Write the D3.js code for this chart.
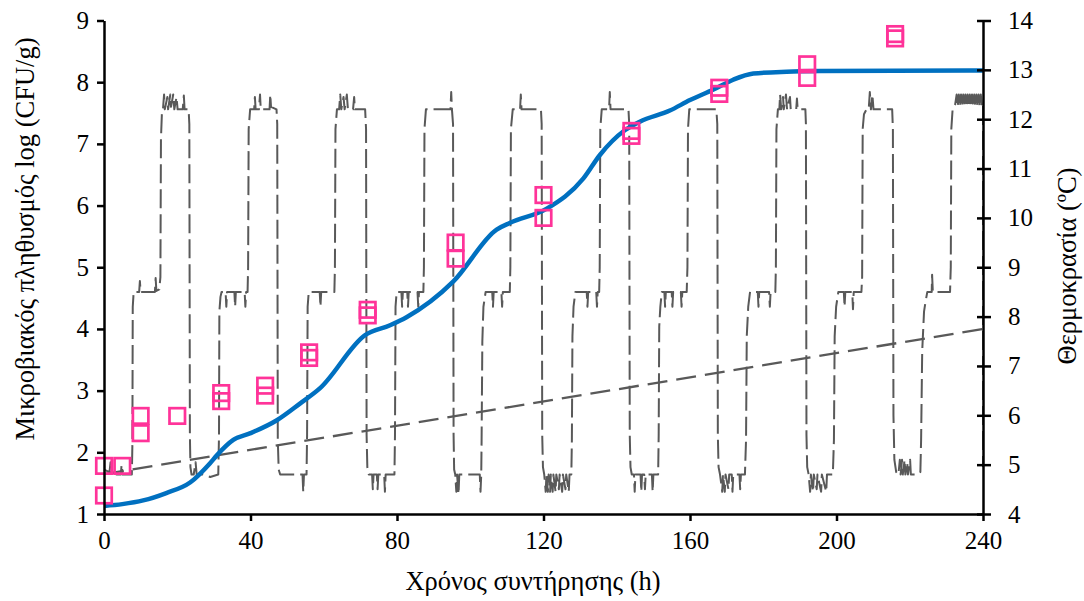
<!DOCTYPE html>
<html>
<head>
<meta charset="utf-8">
<script src="https://cdn.jsdelivr.net/npm/d3@7"></script>
<style>
  html, body { margin: 0; padding: 0; background: #ffffff; }
  svg { display: block; }
  text { font-family: "Liberation Serif", "Times New Roman", serif; fill: #000; }
</style>
</head>
<body>
<svg id="chart" width="1084" height="601"></svg>
<script>
// ---- Data ----
// Storage time (h) tick labels
const timeTicks = [0, 40, 80, 120, 160, 200, 240];
const countTicks = [1, 2, 3, 4, 5, 6, 7, 8, 9];
const tempTicks = [4, 5, 6, 7, 8, 9, 10, 11, 12, 13, 14];

// Observed counts, log CFU/g (two replicates at most sampling times)
const obsTime  = [0, 0, 5, 10, 10, 20, 32, 32, 44, 44, 56, 56, 72, 72, 96, 96, 120, 120, 144, 144, 168, 168, 192, 192, 216, 216];
const obsCount = [1.30, 1.78, 1.78, 2.59, 2.31, 2.59, 2.96, 2.83, 3.08, 2.92, 3.62, 3.53, 4.31, 4.22, 5.40, 5.14, 6.17, 5.80, 7.21, 7.13, 7.91, 7.81, 8.29, 8.07, 8.78, 8.71];

// Predicted growth curve, log CFU/g
const modelTime  = [0, 5, 10.7, 17, 23.5, 28.9, 30.8, 35.3, 40, 47.2, 53.5, 59, 71.3, 78.1, 82.6, 95.4, 107.2, 110.9, 120.9, 130.9, 135.4, 142.2, 146.3, 154.5, 160, 166.4, 171.8, 177.3, 186.4, 195.5, 240];
const modelCount = [1.13, 1.16, 1.22, 1.34, 1.51, 1.82, 1.95, 2.20, 2.31, 2.52, 2.79, 3.04, 3.90, 4.06, 4.19, 4.77, 5.61, 5.72, 5.95, 6.44, 6.82, 7.22, 7.36, 7.54, 7.71, 7.88, 8.04, 8.14, 8.17, 8.18, 8.19];

// Straight reference line on the temperature axis (°C)
const refTime = [0, 240];
const refTemp = [4.81, 7.75];

// Logged storage temperature, [h, °C]
const tempProfile = [
  // day 1
  [0,4.9],[1.5,4.85],[1.8,5.05],[2.1,4.85],[3.5,4.8],[4.6,4.8],[4.8,5.0],[5.1,4.8],[6.5,4.8],[7.6,4.8],[7.75,5.4],[7.85,8.2],[8.1,8.5],
  [9.6,8.5],[9.8,8.72],[10.0,8.5],[13.9,8.5],[14.1,8.78],[14.3,8.52],[15.1,8.55],[15.4,8.8],[15.55,11.6],[15.8,12.1],[16.1,12.2],
  [16.4,12.5],[16.6,12.2],[17.3,12.45],[17.5,12.2],[18.1,12.5],[18.3,12.25],[18.9,12.5],[19.2,12.2],[19.8,12.45],[20.1,12.2],[21.5,12.2],[21.8,12.48],[22.0,12.2],[23.1,12.2],[23.3,11.9],
  [23.45,5.6],[23.6,4.95],[23.9,4.8],
  // day 2
  [24.5,4.8],[25.0,5.05],[25.3,4.8],[27,4.8],[29,4.75],[31.2,4.8],[31.4,5.6],[31.5,8.1],[31.8,8.4],[32.1,8.5],
  [33.2,8.5],[33.4,8.2],[33.6,8.5],[35.6,8.5],[35.8,8.2],[36.0,8.5],[38.4,8.5],[38.6,8.2],[38.8,8.5],[39.2,8.5],[39.35,9.0],[39.5,11.8],[39.9,12.2],
  [40.3,12.2],[41.0,12.2],[41.2,12.45],[41.4,12.2],[42.3,12.2],[42.6,12.5],[42.8,12.2],[45.2,12.2],[45.4,12.5],[45.6,12.25],[47.1,12.2],[47.3,11.9],[47.45,5.5],[47.7,4.9],[48.1,4.8],
  // day 3
  [50,4.8],[52,4.8],[54.2,4.8],[54.4,4.45],[54.6,4.8],[55.3,4.8],[55.45,5.6],[55.6,8.2],[55.9,8.5],
  [57.5,8.5],[58.9,8.5],[59.1,8.2],[59.3,8.5],[62.9,8.5],[63.05,9.0],[63.2,11.8],[63.6,12.2],
  [64.2,12.2],[64.5,12.5],[64.8,12.2],[65.4,12.45],[65.7,12.2],[66.3,12.5],[66.6,12.2],[68.0,12.2],[68.3,12.45],[68.5,12.2],[71.3,12.2],[71.55,11.8],[71.7,5.6],[71.9,4.95],[72.3,4.8],
  // day 4
  [73.2,4.8],[73.4,4.5],[73.6,4.8],[74.5,4.8],[74.7,4.5],[74.9,4.8],[76.5,4.8],[76.7,4.45],[76.9,4.8],[79.3,4.8],[79.45,5.6],[79.6,8.2],[79.9,8.5],
  [81.2,8.5],[81.4,8.2],[81.6,8.5],[82.8,8.5],[83.0,8.2],[83.2,8.5],[85.6,8.5],[85.8,8.2],[86.0,8.5],[87.2,8.5],[87.35,9.0],[87.5,11.8],[87.9,12.2],
  [88.5,12.2],[94.6,12.2],[94.8,12.55],[95.0,12.2],[95.3,11.9],[95.45,5.6],[95.6,4.9],
  // day 5
  [95.9,4.8],[96.2,4.45],[96.4,4.8],[96.8,4.4],[97.0,4.8],[99.4,4.8],[101.5,4.8],[102.6,4.8],[102.8,4.45],[103.0,4.8],[103.1,5.5],[103.3,7.5],[103.6,8.2],[104.2,8.5],
  [105.5,8.5],[106.0,8.5],[106.2,8.2],[106.4,8.5],[108.5,8.5],[108.7,8.2],[108.9,8.5],[110.8,8.5],[110.95,9.0],[111.1,11.8],[111.6,12.2],
  [113.6,12.2],[113.8,12.5],[114.0,12.2],[119.3,12.2],[119.5,11.9],[119.65,5.6],[119.85,4.95],[120.2,4.8],
  // day 6
  [120.6,4.45],[120.8,4.8],[121.2,4.45],[121.4,4.8],[121.8,4.45],[122.0,4.8],[122.5,4.45],[122.7,4.8],[123.3,4.45],[123.5,4.8],[124.2,4.5],[124.4,4.8],[125.1,4.45],[125.3,4.8],[126.0,4.5],[126.2,4.8],[126.9,4.45],[127.1,4.8],[127.6,4.8],[127.75,5.5],[127.9,7.6],[128.2,8.2],[128.7,8.5],
  [130.2,8.5],[131.8,8.5],[132.0,8.2],[132.2,8.5],[134.4,8.5],[134.6,8.2],[134.8,8.5],[135.2,8.5],[135.35,9.0],[135.5,11.8],[135.9,12.2],
  [137.9,12.2],[138.1,12.55],[138.3,12.2],[143.2,12.2],[143.4,11.9],[143.55,5.6],[143.75,4.95],[144.1,4.8],
  // day 7
  [144.7,4.8],[144.9,4.45],[145.1,4.8],[146.5,4.8],[146.7,4.45],[146.9,4.8],[147.5,4.8],[147.7,4.5],[147.9,4.8],[149.6,4.8],[149.8,4.45],[150.0,4.8],[151.3,4.8],[151.45,5.6],[151.6,7.8],[151.9,8.2],[152.3,8.5],
  [153.0,8.5],[153.2,8.2],[153.4,8.5],[155.0,8.5],[155.2,8.2],[155.4,8.5],[157.5,8.5],[157.7,8.2],[157.9,8.5],[159.1,8.5],[159.3,9.0],[159.45,11.8],[159.8,12.2],
  [167.2,12.2],[167.45,11.9],[167.6,5.6],[167.8,4.95],[168.2,4.8],
  // day 8
  [168.8,4.45],[169.0,4.8],[169.5,4.45],[169.7,4.8],[170.5,4.5],[170.7,4.8],[171.4,4.8],[171.6,4.45],[171.8,4.8],[173.5,4.8],[173.7,4.5],[173.9,4.8],[175.0,4.8],[175.3,5.5],[175.5,7.6],[175.9,8.2],[176.4,8.5],
  [178.5,8.5],[178.7,8.2],[178.9,8.5],[181.6,8.5],[181.8,8.2],[182.0,8.5],[183.3,8.5],[183.45,9.0],[183.6,11.8],[184.0,12.2],
  [184.4,12.2],[184.6,12.5],[184.9,12.2],[185.4,12.45],[185.6,12.2],[186.2,12.5],[186.5,12.2],[187.3,12.45],[187.5,12.2],[189.0,12.2],[189.2,12.42],[189.4,12.2],[191.5,12.2],[191.65,11.9],[191.8,5.6],[192.0,4.95],[192.4,4.8],
  // day 9
  [192.8,4.45],[193.0,4.8],[193.6,4.45],[193.8,4.8],[194.6,4.5],[194.8,4.8],[195.8,4.45],[196.0,4.8],[197.2,4.45],[197.4,4.8],[199.0,4.8],[199.3,5.5],[199.5,7.6],[199.9,8.2],[200.5,8.5],
  [202.0,8.5],[202.2,8.2],[202.4,8.5],[204.3,8.5],[204.5,8.15],[204.7,8.5],[206.8,8.5],[207.0,8.8],[207.15,11.8],[207.5,12.1],[208.2,12.2],
  [208.8,12.2],[209.1,12.55],[209.4,12.2],[209.8,12.5],[210.1,12.2],[215.2,12.2],[215.4,11.8],[215.55,6.0],[215.8,5.1],[216.3,4.85],[216.9,4.8],
  // day 10
  [217.3,5.1],[217.5,4.8],[217.9,5.1],[218.1,4.8],[218.6,5.1],[218.8,4.8],[219.3,5.05],[219.5,4.8],[220.1,5.1],[220.3,4.8],[222.3,4.8],[222.9,4.85],[223.1,5.5],[223.4,7.3],[223.9,8.1],
  [224.3,8.3],[224.8,8.5],[226.0,8.5],[226.1,8.85],[226.3,8.5],[231.0,8.5],[231.2,9.0],[231.35,11.8],[231.7,12.2],[232.4,12.3],
  [232.8,12.5],[233.1,12.25],[233.4,12.5],[233.7,12.25],[234.0,12.5],[234.3,12.25],[234.6,12.5],[234.9,12.25],[235.2,12.5],[235.5,12.25],[235.8,12.5],[236.1,12.25],[236.4,12.5],[236.7,12.25],[237.0,12.5],[237.3,12.25],[237.6,12.5],[237.9,12.25],[238.2,12.5],[238.5,12.25],[238.8,12.5],[239.1,12.25],[239.4,12.5],[239.7,12.25],[240,12.3],[240,4.95]
];

// ---- Layout ----
const svg = d3.select("#chart");
const plot = { left: 104, right: 983, top: 20.5, bottom: 514 };

const x  = d3.scaleLinear().domain([0, 240]).range([plot.left, plot.right]);
const yL = d3.scaleLinear().domain([1, 9]).range([plot.bottom, plot.top]);
const yR = d3.scaleLinear().domain([4, 14]).range([plot.bottom, plot.top]);

const gray = "#595959";
const blue = "#0070C0";
const pink = "#FF3399";
const serif = "'Liberation Serif', 'Times New Roman', serif";

// Reference line (dashed, temperature axis)
svg.append("path")
  .datum(refTime.map((t, i) => [t, refTemp[i]]))
  .attr("fill", "none")
  .attr("stroke", gray)
  .attr("stroke-width", 2.3)
  .attr("stroke-dasharray", "20,9")
  .attr("d", d3.line().x(d => x(d[0])).y(d => yR(d[1])));

// Temperature record (dashed)
svg.append("path")
  .datum(tempProfile)
  .attr("fill", "none")
  .attr("stroke", gray)
  .attr("stroke-width", 2)
  .attr("stroke-linejoin", "round")
  .attr("stroke-dasharray", "19,6")
  .attr("d", d3.line().x(d => x(d[0])).y(d => yR(d[1])));

// Predicted growth
svg.append("path")
  .datum(modelTime.map((t, i) => [t, modelCount[i]]))
  .attr("fill", "none")
  .attr("stroke", blue)
  .attr("stroke-width", 4.5)
  .attr("stroke-linejoin", "round")
  .attr("d", d3.line().curve(d3.curveMonotoneX).x(d => x(d[0])).y(d => yL(d[1])));

// Observed counts
const side = 15.5;
svg.append("g").selectAll("rect")
  .data(obsTime.map((t, i) => [t, obsCount[i]]))
  .join("rect")
  .attr("x", d => x(d[0]) - side / 2)
  .attr("y", d => yL(d[1]) - side / 2)
  .attr("width", side)
  .attr("height", side)
  .attr("fill", "none")
  .attr("stroke", pink)
  .attr("stroke-width", 2.7);

// ---- Axes ----
const tickFont = 25;
const titleFont = 26.5;

const axB = svg.append("g")
  .attr("transform", `translate(0,${plot.bottom})`)
  .call(d3.axisBottom(x).tickValues(timeTicks).tickSize(7).tickSizeOuter(0).tickPadding(10));
const axL = svg.append("g")
  .attr("transform", `translate(${plot.left},0)`)
  .call(d3.axisLeft(yL).tickValues(countTicks).tickSize(7).tickSizeOuter(0).tickPadding(8));
const axR = svg.append("g")
  .attr("transform", `translate(${plot.right},0)`)
  .call(d3.axisRight(yR).tickValues(tempTicks).tickSize(8).tickSizeOuter(0).tickPadding(17));

axR.selectAll(".tick line").attr("x1", -6).attr("x2", 8);

[axB, axL, axR].forEach(g => {
  g.attr("font-family", serif);
  g.selectAll(".domain").attr("stroke", "#000").attr("stroke-width", 2.5);
  g.selectAll(".tick line").attr("stroke", "#000").attr("stroke-width", 2.5);
  g.selectAll(".tick text")
    .attr("font-family", serif)
    .attr("font-size", tickFont)
    .attr("fill", "#000");
});

// ---- Axis titles ----
svg.append("text")
  .attr("x", 533).attr("y", 590)
  .attr("text-anchor", "middle")
  .attr("font-family", serif)
  .attr("font-size", titleFont)
  .text("Χρόνος συντήρησης (h)");

svg.append("text")
  .attr("transform", "translate(25,239) rotate(-90)")
  .attr("text-anchor", "middle")
  .attr("dy", "0.35em")
  .attr("font-family", serif)
  .attr("font-size", titleFont)
  .text("Μικροβιακός πληθυσμός log (CFU/g)");

svg.append("text")
  .attr("transform", "translate(1067,266) rotate(-90)")
  .attr("text-anchor", "middle")
  .attr("dy", "0.35em")
  .attr("font-family", serif)
  .attr("font-size", titleFont)
  .text("Θερμοκρασία (ºC)");
</script>
</body>
</html>
